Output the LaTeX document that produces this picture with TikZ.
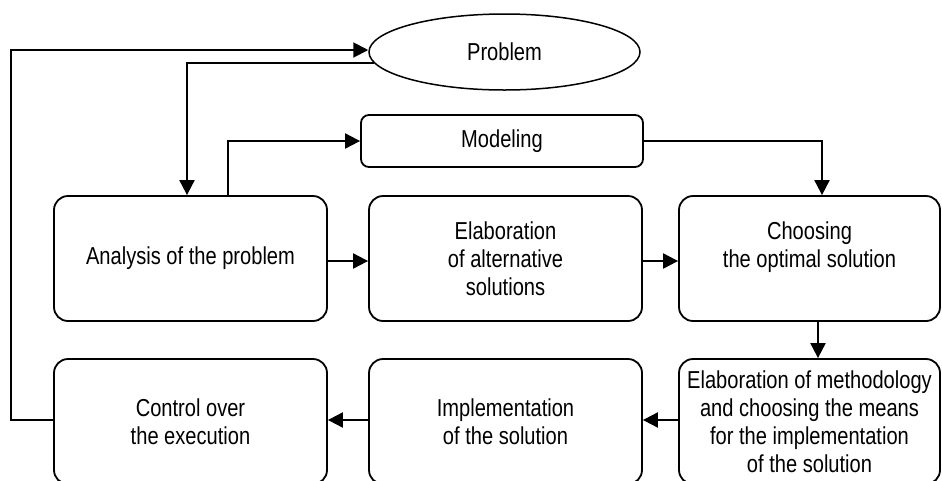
\documentclass[tikz,border=0pt]{standalone}
\usepackage{fontspec}
\setmainfont{Liberation Sans}[FakeStretch=0.82]
\usetikzlibrary{arrows.meta,shapes.geometric}
\begin{document}
\begin{tikzpicture}[x=1pt,y=-1pt,
  every node/.style={font=\fontsize{24.5}{28}\selectfont},
  box/.style={draw,line width=1.8pt,rounded corners=14pt,minimum height=125pt,align=center,inner sep=0pt},
  arr/.style={line width=2pt,-{Triangle[length=15pt,width=15pt]}}]
\useasboundingbox (0,0) rectangle (942,480);
\begin{scope}
\clip (0,0) rectangle (942,480);
\node[draw,ellipse,line width=1.5pt,minimum width=271pt,minimum height=76pt,inner sep=0pt] (prob) at (504.5,52) {Problem};
\node[draw,line width=1.8pt,rounded corners=8pt,minimum width=282pt,minimum height=52pt,inner sep=0pt] (mod) at (502,141) {Modeling};
\node[box,minimum width=273pt] (ana) at (190.5,258.5) {Analysis of the problem};
\node[box,minimum width=273pt] (ela) at (505.5,258.5) {Elaboration\\of alternative\\solutions};
\node[box,minimum width=261pt] (cho) at (809.5,258.5) {Choosing\\the optimal solution\\\mbox{}};
\node[box,minimum width=273pt] (ctl) at (190.5,421.5) {Control over\\the execution};
\node[box,minimum width=273pt] (imp) at (505.5,421.5) {Implementation\\of the solution};
\node[box,minimum width=261pt] (met) at (809.5,421.5) {Elaboration of methodology\\and choosing the means\\for the implementation\\of the solution};
\end{scope}
\draw[arr] ([yshift=1.5pt]ctl.west) -- ++(-42,0) |- ([yshift=2pt]prob.west);
\draw[arr] (prob.185) -| (ana.north -| 187,0);
\draw[arr] (ana.north -| 228,0) |- (mod.west);
\draw[arr] (mod.east) -| (cho.north -| 822,0);
\draw[arr] ([yshift=-2.5pt]ana.east) -- ([yshift=-2.5pt]ela.west);
\draw[arr] ([yshift=-2.5pt]ela.east) -- ([yshift=-2.5pt]cho.west);
\draw[arr] (cho.south -| 818,0) -- (met.north -| 818,0);
\draw[arr] ([yshift=1.5pt]met.west) -- ([yshift=1.5pt]imp.east);
\draw[arr] ([yshift=1.5pt]imp.west) -- ([yshift=1.5pt]ctl.east);
\end{tikzpicture}
\end{document}
